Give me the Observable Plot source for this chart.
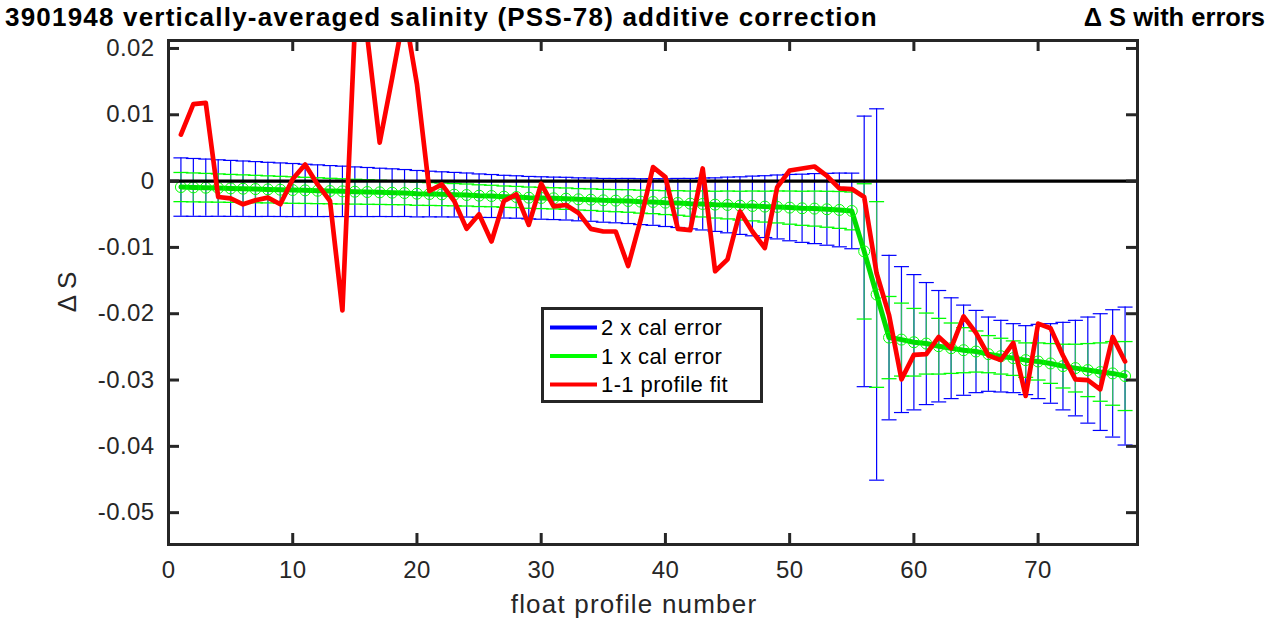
<!DOCTYPE html>
<html>
<head>
<meta charset="utf-8">
<script src="https://cdn.jsdelivr.net/npm/d3@7"></script>
<script src="https://cdn.jsdelivr.net/npm/@observablehq/plot@0.6"></script>
<style>
  html, body { margin: 0; padding: 0; background: #fff; }
  #chart svg { display: block; font-family: "Liberation Sans", Arial, sans-serif; }
</style>
</head>
<body>
<div id="chart"></div>
<script>
// ---- data ----
const profiles = [1,2,3,4,5,6,7,8,9,10,11,12,13,14,15,16,17,18,19,20,21,22,23,24,25,26,27,28,29,30,
  31,32,33,34,35,36,37,38,39,40,41,42,43,44,45,46,47,48,49,50,51,52,53,54,55,56,57,58,59,60,
  61,62,63,64,65,66,67,68,69,70,71,72,73,74,75,76,77];

// fitted additive correction (green thick line with circles)
const fitCorrection = [
  -0.00090,-0.00095,-0.00100,-0.00105,-0.00110,-0.00115,-0.00120,-0.00125,-0.00130,-0.00135,
  -0.00140,-0.00145,-0.00150,-0.00155,-0.00160,-0.00165,-0.00170,-0.00175,-0.00180,-0.00190,
  -0.00195,-0.00200,-0.00205,-0.00210,-0.00220,-0.00225,-0.00235,-0.00240,-0.00250,-0.00255,
  -0.00260,-0.00265,-0.00275,-0.00280,-0.00290,-0.00295,-0.00300,-0.00310,-0.00315,-0.00325,
  -0.00330,-0.00340,-0.00345,-0.00355,-0.00360,-0.00370,-0.00375,-0.00385,-0.00390,-0.00400,
  -0.00410,-0.00415,-0.00425,-0.00435,-0.00450,-0.0106,-0.0171,-0.0236,-0.0239,-0.0243,
  -0.0245,-0.0249,-0.0252,-0.0255,-0.0257,-0.0261,-0.0264,-0.0267,-0.0270,-0.0272,
  -0.0275,-0.0279,-0.0282,-0.0285,-0.0288,-0.0290,-0.0294];

// 1 x calibration error (half-width of the green bars)
const calError = [
  0.00220,0.00218,0.00216,0.00213,0.00211,0.00209,0.00207,0.00204,0.00202,0.00200,
  0.00197,0.00195,0.00192,0.00190,0.00187,0.00185,0.00182,0.00180,0.00177,0.00175,
  0.00172,0.00170,0.00168,0.00166,0.00164,0.00162,0.00161,0.00160,0.00160,0.00160,
  0.00160,0.00161,0.00162,0.00163,0.00165,0.00167,0.00170,0.00173,0.00176,0.00180,
  0.00185,0.00190,0.00196,0.00202,0.00210,0.00217,0.00225,0.00233,0.00241,0.00250,
  0.00257,0.00264,0.00271,0.00278,0.00285,0.0102,0.0140,0.0062,0.0055,0.0051,
  0.0046,0.0042,0.0038,0.0034,0.0031,0.0028,0.0027,0.0026,0.0026,0.0028,
  0.0030,0.0033,0.0036,0.0040,0.0044,0.0048,0.0052];

// 1-1 profile fit (red line)
const profileFit = [
  0.0070,0.0116,0.0118,-0.0024,-0.0026,-0.0035,-0.0029,-0.0025,-0.0035,0.0003,
  0.0025,-0.0005,-0.0030,-0.0195,0.0232,0.0218,0.0058,0.0155,0.0256,0.0146,
  -0.0015,-0.0005,-0.0030,-0.0072,-0.0050,-0.0091,-0.0030,-0.0020,-0.0066,-0.0004,
  -0.0038,-0.0036,-0.0048,-0.0072,-0.0076,-0.0076,-0.0128,-0.0059,0.0021,0.0006,
  -0.0072,-0.0074,0.0019,-0.0136,-0.0118,-0.0046,-0.0076,-0.0101,-0.0009,0.0016,
  0.0019,0.0022,0.0008,-0.0011,-0.0012,-0.0024,-0.0139,-0.0202,-0.0299,-0.0262,
  -0.0261,-0.0235,-0.0252,-0.0204,-0.0229,-0.0263,-0.0270,-0.0244,-0.0324,-0.0215,
  -0.0222,-0.0263,-0.0299,-0.0300,-0.0314,-0.0235,-0.0272];

const xTicks = [0,10,20,30,40,50,60,70];
const yTicks = [-0.05,-0.04,-0.03,-0.02,-0.01,0,0.01,0.02];
const yTickLabels = ["-0.05","-0.04","-0.03","-0.02","-0.01","0","0.01","0.02"];
const xDomain = [0, 78];
const yDomain = [-0.0548, 0.0212];

const titleText = "3901948 vertically-averaged salinity (PSS-78) additive correction";
const titleRight = "\u0394 S with errors";
const xLabel = "float profile number";
const yLabel = "\u0394 S";
const legendLabels = ["2 x cal error", "1 x cal error", "1-1 profile fit"];
const legendColors = ["#0000ff", "#00ff00", "#ff0000"];

// ---- table built from the arrays ----
const rows = profiles.map((p, i) => ({
  profile: p, fit: fitCorrection[i], err: calError[i], red: profileFit[i]
}));

const W = 1269, H = 628;
const mL = 168, mR = 132, mT = 40, mB = 84;
const fw = W - mL - mR, fh = H - mT - mB;
const axisColor = "#262626";
const tickLen = 11;

// horizontal cap symbol with a fixed pixel width
const cap = { draw(ctx) { ctx.moveTo(-7.5, 0); ctx.lineTo(7.5, 0); } };

const chart = Plot.plot({
  width: W, height: H,
  marginLeft: mL, marginRight: mR, marginTop: mT, marginBottom: mB,
  style: { fontFamily: "'Liberation Sans', Arial, sans-serif", background: "#fff" },
  x: { domain: xDomain },
  y: { domain: yDomain },
  marks: [
    // 2 x cal error (blue)
    Plot.ruleX(rows, { x: "profile", y1: d => d.fit - 2 * d.err, y2: d => d.fit + 2 * d.err, stroke: "#0000ff", strokeWidth: 1.2, clip: true }),
    Plot.dot(rows, { x: "profile", y: d => d.fit + 2 * d.err, symbol: cap, stroke: "#0000ff", strokeWidth: 1.2, fill: "none" }),
    Plot.dot(rows, { x: "profile", y: d => d.fit - 2 * d.err, symbol: cap, stroke: "#0000ff", strokeWidth: 1.2, fill: "none" }),
    // 1 x cal error (green)
    Plot.ruleX(rows, { x: "profile", y1: d => d.fit - d.err, y2: d => d.fit + d.err, stroke: "#2fb766", strokeWidth: 1.3, clip: true }),
    Plot.dot(rows, { x: "profile", y: d => d.fit + d.err, symbol: cap, stroke: "#00ff00", strokeWidth: 1.3, fill: "none" }),
    Plot.dot(rows, { x: "profile", y: d => d.fit - d.err, symbol: cap, stroke: "#00ff00", strokeWidth: 1.3, fill: "none" }),
    // fitted correction
    Plot.line(rows, { x: "profile", y: "fit", stroke: "#00dd00", strokeWidth: 5 }),
    Plot.dot(rows, { x: "profile", y: "fit", r: 5.5, stroke: "#00ff00", strokeWidth: 1, fill: "none" }),
    // zero line
    Plot.ruleY([0], { stroke: "#000", strokeWidth: 3.2 }),
    // 1-1 profile fit
    Plot.line(rows, { x: "profile", y: "red", stroke: "#ff0000", strokeWidth: 4.7, strokeLinejoin: "round", clip: true }),
    // inward ticks on all four sides
    Plot.ruleX(xTicks, { x: d => d, insetTop: fh - tickLen, stroke: axisColor, strokeWidth: 3 }),
    Plot.ruleX(xTicks, { x: d => d, insetBottom: fh - tickLen, stroke: axisColor, strokeWidth: 3 }),
    Plot.ruleY(yTicks, { y: d => d, insetRight: fw - tickLen, stroke: axisColor, strokeWidth: 3 }),
    Plot.ruleY(yTicks, { y: d => d, insetLeft: fw - tickLen, stroke: axisColor, strokeWidth: 3 }),
    Plot.frame({ stroke: axisColor, strokeWidth: 3 }),
    // tick labels
    Plot.axisX(xTicks, { anchor: "bottom", tickSize: 0, tickPadding: 16, fontSize: 24, color: axisColor, label: null, tickFormat: d => String(d) }),
    Plot.axisY(yTicks, { anchor: "left", tickSize: 0, tickPadding: 14, fontSize: 24, color: axisColor, label: null, tickFormat: d => yTickLabels[yTicks.indexOf(d)] })
  ]
});

const svg = d3.select(chart);
svg.selectAll('[aria-label="x-axis tick label"] text, [aria-label="y-axis tick label"] text').style("letter-spacing", "0.4px");

// titles and axis labels
svg.append("text").attr("x", 5).attr("y", 26).attr("font-size", 26).attr("font-weight", "bold")
  .attr("text-anchor", "start").attr("fill", "#000").style("letter-spacing", "1.2px").text(titleText);
svg.append("text").attr("x", 1265).attr("y", 26).attr("font-size", 25.5).attr("font-weight", "bold")
  .attr("text-anchor", "end").attr("fill", "#000").text(titleRight);
svg.append("text").attr("x", 634).attr("y", 613).attr("font-size", 26).attr("text-anchor", "middle")
  .attr("fill", axisColor).style("letter-spacing", "1.2px").text(xLabel);
svg.append("text").attr("transform", "translate(76,292) rotate(-90)").attr("font-size", 26)
  .attr("text-anchor", "middle").attr("fill", axisColor).text(yLabel);

// legend
const lg = svg.append("g");
lg.append("rect").attr("x", 542.5).attr("y", 308.5).attr("width", 219).attr("height", 93)
  .attr("fill", "#fff").attr("stroke", axisColor).attr("stroke-width", 3);
legendLabels.forEach((t, i) => {
  const cy = 327.5 + i * 28.5;
  lg.append("line").attr("x1", 550).attr("x2", 597).attr("y1", cy).attr("y2", cy)
    .attr("stroke", legendColors[i]).attr("stroke-width", 4);
  lg.append("text").attr("x", 601).attr("y", cy).attr("dy", "0.36em").attr("font-size", 22)
    .attr("text-anchor", "start").attr("fill", "#000").style("letter-spacing", "0.4px").text(t);
});

document.getElementById("chart").appendChild(chart);
</script>
</body>
</html>
